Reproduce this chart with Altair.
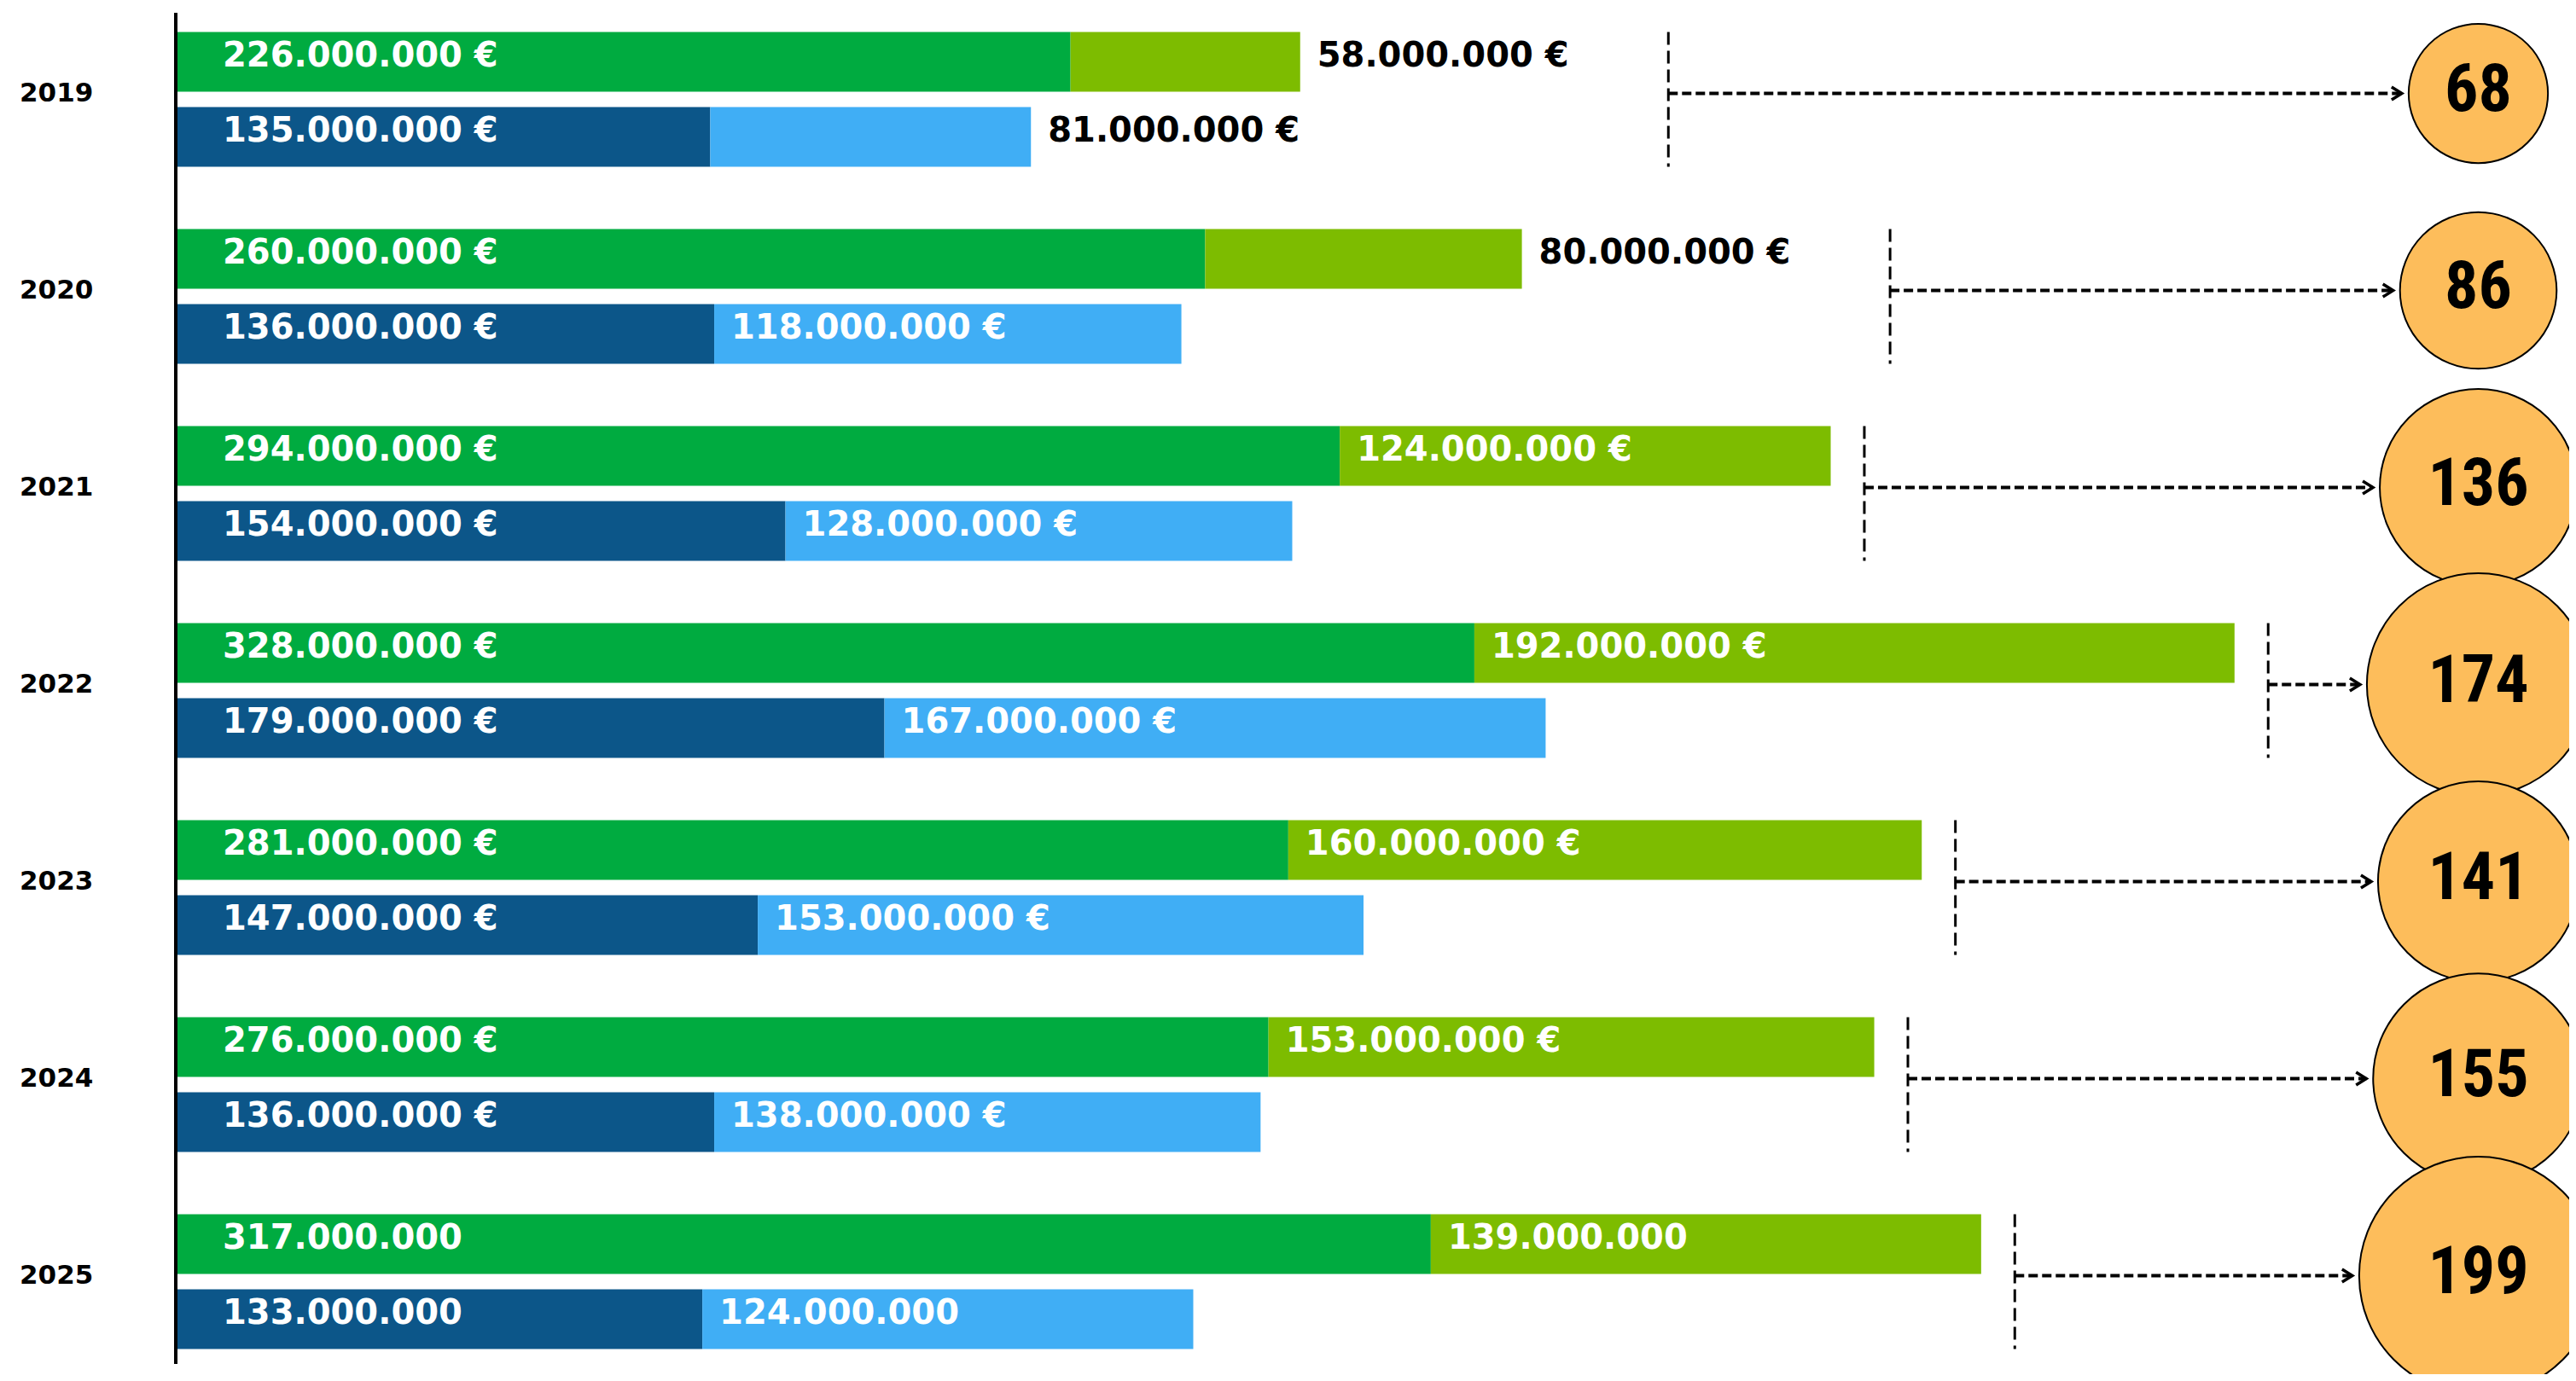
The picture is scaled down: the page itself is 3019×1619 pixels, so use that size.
import math
import altair as alt
import pandas as pd

# ---------------- data ----------------
years = ["2019", "2020", "2021", "2022", "2023", "2024", "2025"]
green_dark = [226, 260, 294, 328, 281, 276, 317]    # millions
green_light = [58, 80, 124, 192, 160, 153, 139]
blue_dark = [135, 136, 154, 179, 147, 136, 133]
blue_light = [81, 118, 128, 167, 153, 138, 124]
projects = [68, 86, 136, 174, 141, 155, 199]
suffix = [" €", " €", " €", " €", " €", " €", ""]

# ---------------- layout / style ----------------
W, H = 3003, 1603
PX_PER_M = 4.64
X_MIN = -198 / PX_PER_M
X_MAX = X_MIN + W / PX_PER_M
PITCH = 231.0
U_MIN = -108.5 / PITCH
U_MAX = U_MIN + H / PITCH
BAR_OFF = 44 / PITCH
BAR_HALF = 35 / PITCH
CIRCLE_X = X_MIN + 2896.5 / PX_PER_M
CIRCLE_DY = -0.03
SIZE_K = 392
IN_GAP = 8.5
OUT_GAP = 93
OUTSIDE_LIMIT = 100

C_GD, C_GL = "#00AB40", "#7DBC00"
C_BD, C_BL = "#0C5689", "#40AEF5"
C_CIRCLE = "#FDBD5B"
FONT = "DejaVu Sans"
NUM_FONT = "'Roboto Condensed', 'Liberation Sans Narrow', 'DejaVu Sans Condensed', sans-serif"


def fmt(v, suf):
    return f"{int(v * 1_000_000):,}".replace(",", ".") + suf


seg_rows, dark_lab, light_lab, year_rows = [], [], [], []
for i, y in enumerate(years):
    for dark, light, cd, cl, off in [
        (green_dark[i], green_light[i], C_GD, C_GL, -BAR_OFF),
        (blue_dark[i], blue_light[i], C_BD, C_BL, BAR_OFF),
    ]:
        u = i + off
        seg_rows.append(dict(x=0, x2=dark, y=u - BAR_HALF, y2=u + BAR_HALF, c=cd))
        seg_rows.append(dict(x=dark, x2=dark + light, y=u - BAR_HALF, y2=u + BAR_HALF, c=cl))
        dark_lab.append(dict(x=0, y=u, t=fmt(dark, suffix[i])))
        outside = light < OUTSIDE_LIMIT
        light_lab.append(dict(x=dark + light if outside else dark, y=u,
                              t=fmt(light, suffix[i]),
                              c="#000000" if outside else "#FFFFFF"))
    gtot = green_dark[i] + green_light[i]
    dash_x = gtot + (OUT_GAP if green_light[i] < OUTSIDE_LIMIT else IN_GAP)
    r_px = math.sqrt(SIZE_K * projects[i]) / 2
    arrow_end = CIRCLE_X - (r_px + 8) / PX_PER_M
    year_rows.append(dict(
        year=y, u=i, cu=i + CIRCLE_DY,
        top=i - BAR_OFF - BAR_HALF, bot=i + BAR_OFF + BAR_HALF,
        dx=dash_x, ax=arrow_end, cx=CIRCLE_X,
        n=projects[i], size=SIZE_K * projects[i], label=str(projects[i]),
    ))

seg = pd.DataFrame(seg_rows)
dl = pd.DataFrame(dark_lab)
ll = pd.DataFrame(light_lab)
yr = pd.DataFrame(year_rows)
axis_df = pd.DataFrame([dict(x=0, y=U_MIN + 7 / PITCH, y2=U_MIN + 1591 / PITCH)])

xs = alt.Scale(domain=[X_MIN, X_MAX], nice=False, zero=False)
ys = alt.Scale(domain=[U_MIN, U_MAX], nice=False, zero=False, reverse=True)


def X(f):
    return alt.X(f, type="quantitative", scale=xs, axis=None)


def Y(f):
    return alt.Y(f, type="quantitative", scale=ys, axis=None)


bars = alt.Chart(seg).mark_rect().encode(
    x=X("x"), x2="x2", y=Y("y"), y2="y2", color=alt.Color("c:N", scale=None)
)

dark_text = alt.Chart(dl).mark_text(
    align="left", baseline="middle", dx=55, dy=-7, font=FONT, fontWeight="bold",
    fontSize=40, color="#FFFFFF"
).encode(x=X("x"), y=Y("y"), text="t:N")

light_text = alt.Chart(ll).mark_text(
    align="left", baseline="middle", dx=20, dy=-7, font=FONT, fontWeight="bold",
    fontSize=40
).encode(x=X("x"), y=Y("y"), text="t:N", color=alt.Color("c:N", scale=None))

year_text = alt.Chart(yr).mark_text(
    align="left", baseline="middle", dy=-7, font=FONT, fontWeight="bold",
    fontSize=31, color="#000000"
).encode(x=alt.value(15), y=Y("u"), text="year:N")

axis_line = alt.Chart(axis_df).mark_rule(color="#000000", strokeWidth=4).encode(
    x=X("x"), y=Y("y"), y2="y2"
)

vdash = alt.Chart(yr).mark_rule(color="#000000", strokeWidth=3, strokeDash=[15, 7]).encode(
    x=X("dx"), y=Y("top"), y2="bot"
)

arrows = alt.Chart(yr).mark_rule(color="#000000", strokeWidth=4, strokeDash=[11, 5]).encode(
    x=X("dx"), x2="ax", y=Y("cu")
)

heads = alt.Chart(yr).mark_point(
    shape="M-2,-1.25L0,0L-2,1.25", filled=False, color="#000000",
    strokeWidth=3.5, size=144, opacity=1
).encode(x=X("ax"), y=Y("cu"))

circles = alt.Chart(yr).mark_point(
    shape="circle", filled=True, fill=C_CIRCLE, stroke="#000000", strokeWidth=2,
    opacity=1, clip=True
).encode(x=X("cx"), y=Y("cu"), size=alt.Size("size:Q", scale=None))

circle_text = alt.Chart(yr).mark_text(
    align="center", baseline="middle", dy=-3, font=NUM_FONT, fontWeight="bold",
    fontSize=78, color="#000000"
).encode(x=X("cx"), y=Y("cu"), text="label:N")

chart = alt.layer(
    bars, dark_text, light_text, year_text, axis_line, vdash, arrows, heads,
    circles, circle_text
).properties(
    width=W, height=H, padding=0
).configure_view(stroke=None)

chart.save("out.html", embed_options={"renderer": "svg", "actions": False})
